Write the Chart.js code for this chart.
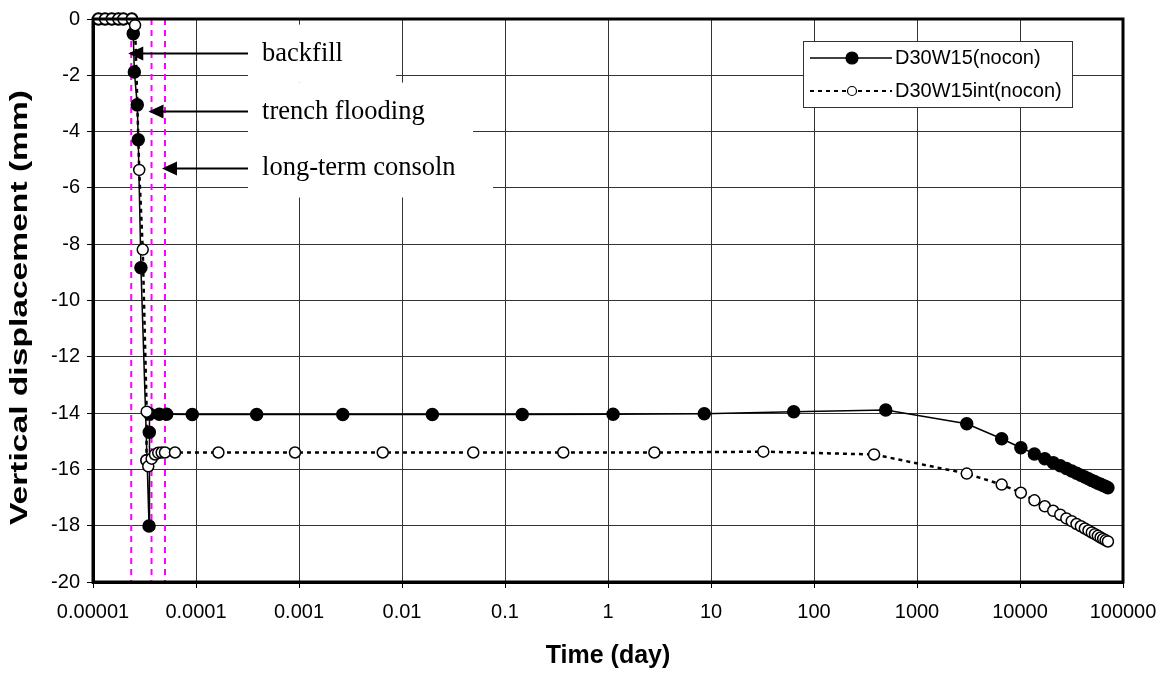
<!DOCTYPE html>
<html>
<head>
<meta charset="utf-8">
<title>Vertical displacement vs time</title>
<script src="https://cdn.jsdelivr.net/npm/chart.js@4.4.1/dist/chart.umd.min.js"></script>
<style>
  body { margin: 0; background: #fff; }
</style>
</head>
<body>
<canvas id="myChart" width="1170" height="675"></canvas>
<script>
// time (day) and vertical displacement (mm) for the two runs
const timeNocon = [1.13e-5, 1.31e-5, 1.52e-5, 1.76e-5, 1.97e-5, 2.38e-5,
  2.46e-5, 2.52e-5, 2.69e-5, 2.75e-5, 2.92e-5,
  3.35e-5, 3.5e-5, 3.52e-5, 3.55e-5,
  4.4e-5, 5.19e-5, 9.2e-5, 3.88e-4, 2.66e-3, 0.0197, 0.147, 1.12, 8.6, 63.5, 497,
  3040, 6640, 10200,
  13800, 17400, 21000, 24600, 28200, 31800, 35400, 39000, 42600, 46200, 49800,
  53400, 57000, 60600, 64200, 67800, 71400]
const dispNocon = [0, 0, 0, 0, 0, 0,
  -0.52, -1.88, -3.05, -4.29, -8.84,
  -15.68, -18.01, -14.68, -14.03,
  -14.04, -14.04, -14.05, -14.05, -14.05, -14.05, -14.05, -14.04, -14.02, -13.95, -13.89,
  -14.38, -14.91, -15.23,
  -15.45, -15.62, -15.76, -15.87, -15.97, -16.06, -16.14, -16.21, -16.27, -16.33, -16.39,
  -16.44, -16.49, -16.53, -16.57, -16.61, -16.65]

const timeInt = [1.13e-5, 1.31e-5, 1.52e-5, 1.76e-5, 1.97e-5, 2.38e-5,
  2.56e-5, 2.81e-5, 3.04e-5, 3.32e-5,
  3.3e-5, 3.44e-5, 3.71e-5, 4.0e-5, 4.3e-5, 4.64e-5, 5.0e-5,
  6.25e-5, 1.65e-4, 9.14e-4, 6.5e-3, 0.0492, 0.368, 2.82, 32.2, 383,
  3040, 6640, 10200,
  13800, 17400, 21000, 24600, 28200, 31800, 35400, 39000, 42600, 46200, 49800,
  53400, 57000, 60600, 64200, 67800, 71400]
const dispInt = [0, 0, 0, 0, 0, 0,
  -0.22, -5.36, -8.19, -13.95,
  -15.68, -15.89, -15.62, -15.47, -15.41, -15.40, -15.40,
  -15.40, -15.40, -15.40, -15.40, -15.40, -15.40, -15.40, -15.37, -15.47,
  -16.15, -16.54, -16.83,
  -17.10, -17.31, -17.47, -17.61, -17.74, -17.84, -17.94, -18.02, -18.10, -18.17, -18.24,
  -18.30, -18.36, -18.42, -18.47, -18.52, -18.56]

// construction stages: backfill, trench flooding, long-term consolidation
const stageTimes = [2.35e-5, 3.7e-5, 5.0e-5]
const stageNames = ['backfill', 'trench flooding', 'long-term consoln']
const stageArrowY = [-1.23, -3.29, -5.31]

const seriesNames = ['D30W15(nocon)', 'D30W15int(nocon)']

const xTickValues = [1e-5, 1e-4, 1e-3, 1e-2, 1e-1, 1, 10, 100, 1000, 10000, 100000]
const xTickLabels = ['0.00001', '0.0001', '0.001', '0.01', '0.1', '1', '10', '100', '1000', '10000', '100000']
const yMin = -20, yMax = 0, yStep = 2
const yTitle = 'Vertical displacement (mm)'

const toPoints = (xs, ys) => xs.map((x, i) => ({x: x, y: ys[i]}))

Chart.defaults.font.family = '"Liberation Sans", Arial, sans-serif'
Chart.defaults.color = '#000'

// note boxes sit right of the dashed lines, arrows point back at them
const noteBoxLeft = 3.2e-4
const noteBoxWidths = [148, 225, 245]
const noteBoxHeight = 58

const notes = {
  id: 'notes',
  beforeDatasetsDraw(chart) {
    const ctx = chart.ctx
    const xs = chart.scales.x, ys = chart.scales.y
    ctx.save()
    ctx.fillStyle = '#fff'
    stageNames.forEach((name, i) => {
      const left = xs.getPixelForValue(noteBoxLeft)
      const cy = ys.getPixelForValue(stageArrowY[i])
      ctx.fillRect(left, cy - noteBoxHeight / 2, noteBoxWidths[i], noteBoxHeight)
    })
    ctx.restore()
  },
  afterDatasetsDraw(chart) {
    const ctx = chart.ctx
    const xs = chart.scales.x, ys = chart.scales.y
    ctx.save()
    stageNames.forEach((name, i) => {
      const left = xs.getPixelForValue(noteBoxLeft)
      const tip = xs.getPixelForValue(stageTimes[i]) - 3
      const cy = ys.getPixelForValue(stageArrowY[i])
      ctx.strokeStyle = '#000'
      ctx.fillStyle = '#000'
      ctx.lineWidth = 2
      ctx.beginPath()
      ctx.moveTo(left, cy)
      ctx.lineTo(tip + 12, cy)
      ctx.stroke()
      ctx.beginPath()
      ctx.moveTo(tip, cy)
      ctx.lineTo(tip + 15, cy - 7)
      ctx.lineTo(tip + 15, cy + 7)
      ctx.closePath()
      ctx.fill()
      ctx.font = '26.5px "Liberation Serif", "Times New Roman", serif'
      ctx.textBaseline = 'middle'
      ctx.textAlign = 'left'
      ctx.fillText(name, left + 14, cy)
    })
    // heavy frame round the plot area
    const a = chart.chartArea
    ctx.lineWidth = 3
    ctx.strokeRect(a.left, a.top, a.right - a.left, a.bottom - a.top)
    ctx.restore()
  },
  afterDraw(chart) {
    const ctx = chart.ctx
    const a = chart.chartArea

    // y axis title, drawn by hand so it can be stretched along its length
    ctx.save()
    ctx.translate(20, (a.top + a.bottom) / 2 + 7)
    ctx.rotate(-Math.PI / 2)
    ctx.scale(1.4, 1)
    ctx.font = 'bold 24px "Liberation Sans", Arial, sans-serif'
    ctx.textAlign = 'center'
    ctx.textBaseline = 'middle'
    ctx.fillStyle = '#000'
    ctx.fillText(yTitle, 0, 0)
    ctx.restore()

    // legend box in the upper right of the plot
    const bx = a.right - 320, by = a.top + 22, bw = 269, bh = 66
    ctx.save()
    ctx.fillStyle = '#fff'
    ctx.fillRect(bx, by, bw, bh)
    ctx.strokeStyle = '#333'
    ctx.lineWidth = 1
    ctx.strokeRect(bx + 0.5, by + 0.5, bw, bh)
    ctx.font = '20px "Liberation Sans", Arial, sans-serif'
    ctx.textBaseline = 'middle'
    seriesNames.forEach((name, i) => {
      const y = by + 17 + i * 33
      ctx.strokeStyle = '#000'
      ctx.lineWidth = i === 0 ? 1.5 : 2
      ctx.setLineDash(i === 0 ? [] : [4, 4])
      ctx.beginPath()
      ctx.moveTo(bx + 7, y)
      ctx.lineTo(bx + 89, y)
      ctx.stroke()
      ctx.setLineDash([])
      ctx.beginPath()
      ctx.arc(bx + 49, y, i === 0 ? 6 : 4.5, 0, Math.PI * 2)
      ctx.fillStyle = i === 0 ? '#000' : '#fff'
      ctx.fill()
      ctx.lineWidth = 1.2
      ctx.stroke()
      ctx.fillStyle = '#000'
      ctx.fillText(name, bx + 92, y)
    })
    ctx.restore()
  }
}

const stageLines = stageTimes.map(t => ({
  data: [{x: t, y: yMax}, {x: t, y: yMin}],
  showLine: true,
  borderColor: '#ff00ff',
  borderWidth: 2,
  borderDash: [6, 5],
  pointRadius: 0
}))

new Chart('myChart', {
  type: 'scatter',
  data: {
    datasets: [{
      label: seriesNames[1],
      data: toPoints(timeInt, dispInt),
      showLine: true,
      borderColor: '#000',
      borderWidth: 2.5,
      borderDash: [4, 4],
      pointRadius: 5.5,
      pointBorderWidth: 1.5,
      pointBackgroundColor: '#fff',
      pointBorderColor: '#000',
      clip: false
    }, {
      label: seriesNames[0],
      data: toPoints(timeNocon, dispNocon),
      showLine: true,
      borderColor: '#000',
      borderWidth: 1.5,
      pointRadius: 6,
      pointBackgroundColor: '#000',
      pointBorderColor: '#000',
      clip: false
    }, ...stageLines]
  },
  options: {
    responsive: false,
    animation: false,
    events: [],
    layout: {padding: {top: 16, right: 47, left: 0, bottom: 0}},
    plugins: {legend: {display: false}, tooltip: {enabled: false}},
    scales: {
      x: {
        type: 'logarithmic',
        min: xTickValues[0],
        max: xTickValues[xTickValues.length - 1],
        afterBuildTicks: s => { s.ticks = xTickValues.map(v => ({value: v})) },
        afterFit: s => { s.height = 93 },
        ticks: {
          autoSkip: false,
          maxRotation: 0,
          padding: 12,
          font: {size: 20},
          callback: v => xTickLabels[xTickValues.indexOf(v)]
        },
        grid: {color: '#333', lineWidth: 1, tickLength: 6, tickColor: '#000'},
        border: {display: true, color: '#000', width: 3},
        title: {display: true, text: 'Time (day)', font: {size: 25, weight: 'bold'}, padding: {bottom: 4}}
      },
      y: {
        min: yMin,
        max: yMax,
        afterFit: s => { s.width = 93 },
        ticks: {stepSize: yStep, padding: 7, font: {size: 20}},
        grid: {color: '#333', lineWidth: 1, tickLength: 6, tickColor: '#000'},
        border: {display: true, color: '#000', width: 3},
        title: {display: false}
      }
    }
  },
  plugins: [notes]
})
</script>
</body>
</html>
